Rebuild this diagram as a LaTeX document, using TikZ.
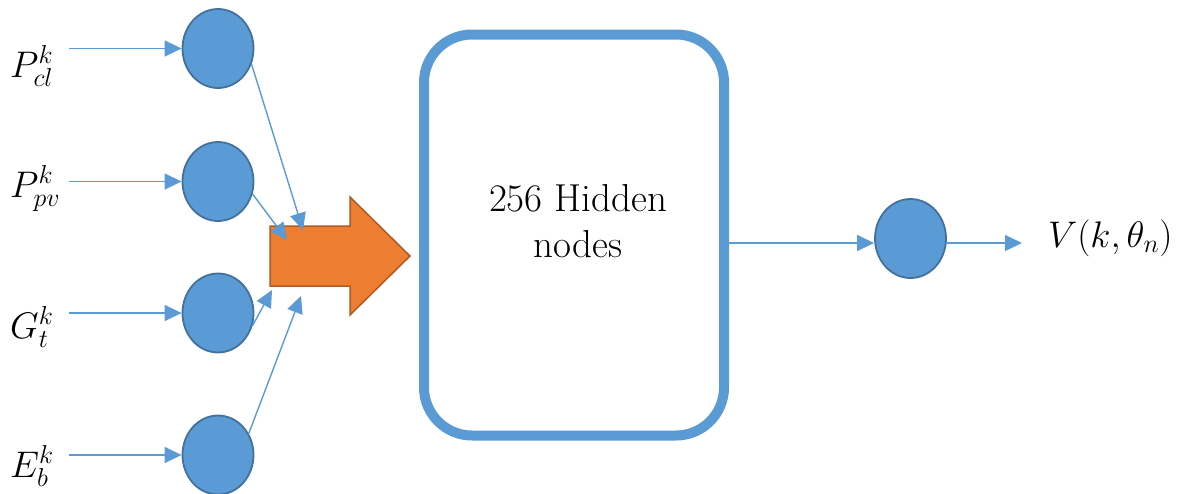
\RequirePackage{fix-cm}
\documentclass[tikz,border=0pt]{standalone}
\usepackage{fontspec}
\usetikzlibrary{arrows.meta,shapes.geometric,calc}

\definecolor{nodeblue}{HTML}{5B9BD5}
\definecolor{nodeedge}{HTML}{41719C}
\definecolor{mergefill}{HTML}{ED7D31}
\definecolor{mergeedge}{HTML}{AE5A21}

\tikzset{
  neuron/.style={ellipse, draw=nodeedge, line width=1.8pt, fill=nodeblue,
    minimum width=71pt, minimum height=79pt, inner sep=0pt},
  wire/.style={draw=nodeblue, line width=1.4pt,
    -{Triangle[length=17pt,width=16pt]}},
  inlabel/.style={anchor=base west, inner sep=0pt, font=\fontsize{37}{44}\selectfont},
  hiddenbox/.style={draw=nodeblue, line width=10pt, rounded corners=48pt,
    minimum width=300pt, minimum height=401pt, inner sep=0pt},
  bigtext/.style={align=center, font=\fontsize{39}{46}\selectfont, inner sep=0pt}
}

\begin{document}
\begin{tikzpicture}[x=1pt,y=-1pt]
\useasboundingbox (0,0) rectangle (1185,493);

% input neurons
\node[neuron] (c1) at (218,48.5) {};
\node[neuron] (c2) at (218,181.5) {};
\node[neuron] (c3) at (218,313) {};
\node[neuron] (c4) at (218,455) {};

% input labels
\node[inlabel] (l1) at (10,77) {$P_{cl}^{k}$};
\node[inlabel] (l2) at (10,197) {$P_{pv}^{k}$};
\node[inlabel] (l3) at (10,338) {$G_{t}^{k}$};
\node[inlabel] (l4) at (10,477) {$E_{b}^{k}$};

% starts of the input wires
\coordinate (s1) at (69,48.5);
\coordinate (s2) at (69,181.5);
\coordinate (s3) at (69,313);
\coordinate (s4) at (69,455);

\draw[wire] (s1) -- (c1);
\draw[wire] (s2) -- (c2);
\draw[wire] (s3) -- (c3);
\draw[wire] (s4) -- (c4);

% merging block arrow
\draw[fill=mergefill, draw=mergeedge, line width=1.5pt, line join=miter]
  (270,226) -- (350,226) -- (350,197) -- (410,256) -- (350,315)
  -- (350,286) -- (270,286) -- cycle;

% wire targets on the block arrow
\coordinate (t1) at (303,230);
\coordinate (t2) at (287,240);
\coordinate (t3) at (272,290);
\coordinate (t4) at (301,296);

\draw[wire] (c1.-25) -- (t1);
\draw[wire] (c2.-20) -- (t2);
\draw[wire] (c3.-20) -- (t3);
\draw[wire] (c4.35) -- (t4);

% hidden layer
\node[hiddenbox] (hid) at (574,235) {};
\node[bigtext] (hidtext) at (578,221) {256 Hidden\\nodes};

% output neuron
\node[neuron] (out) at (910.5,238.5) {};
\coordinate (olevel) at (0,243);
\coordinate (oend) at (1022,243);
\node[inlabel] (vlab) at (1048,247) {$V(k,\theta_n)$};

\draw[wire] (hid.east |- olevel) -- (out.west |- olevel);
\draw[wire] (out.east |- olevel) -- (oend);
\end{tikzpicture}
\end{document}
